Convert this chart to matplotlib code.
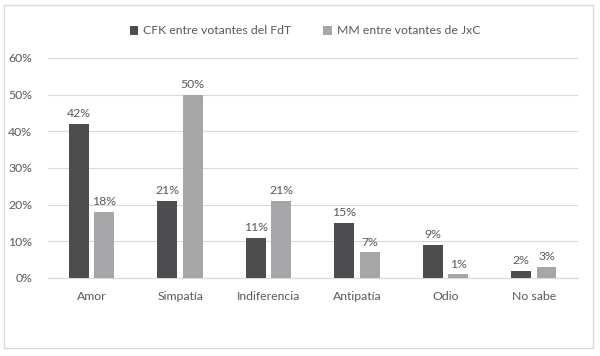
import matplotlib
matplotlib.use("Agg")
import matplotlib.pyplot as plt
import numpy as np
from matplotlib.patches import Rectangle

categories = ["Amor", "Simpatía", "Indiferencia", "Antipatía", "Odio", "No sabe"]
cfk = [42, 21, 11, 15, 9, 2]
mm = [18, 50, 21, 7, 1, 3]
series_names = ["CFK entre votantes del FdT", "MM entre votantes de JxC"]
yticks = [0, 10, 20, 30, 40, 50, 60]

plt.rcParams['font.family'] = ['Lato', 'DejaVu Sans']
text_color = "#595959"
dark = "#4d4d4f"
light = "#a6a6a8"

fig = plt.figure(figsize=(6, 3.56), dpi=100)
fig.patches.append(Rectangle((4/600, 1-348/356), 589/600, 343/356, transform=fig.transFigure,
                             fill=False, edgecolor="#d9d9d9", linewidth=1))
ax = fig.add_axes([47.5/600, 1-278/356, 530.5/600, 220/356])

x = np.arange(len(categories))
w = 0.225
off = 0.144
b1 = ax.bar(x - off, cfk, w, color=dark, label=series_names[0], zorder=3)
b2 = ax.bar(x + off, mm, w, color=light, label=series_names[1], zorder=3)
for bars, vals in ((b1, cfk), (b2, mm)):
    for r, v in zip(bars, vals):
        ax.text(r.get_x() + r.get_width()/2, v + 1.3, f"{v}%", ha="center", va="bottom",
                fontsize=8.8, color=text_color)

ax.set_xlim(-0.5, len(categories) - 0.5)
ax.set_ylim(0, 60)
ax.set_yticks(yticks)
ax.set_yticklabels([f"{t}%" for t in yticks])
ax.set_xticks(x)
ax.set_xticklabels(categories)
ax.tick_params(axis="both", length=0, labelsize=8.8, labelcolor=text_color)
ax.tick_params(axis="x", pad=9)
ax.tick_params(axis="y", pad=11)
ax.grid(axis="y", color="#d9d9d9", linewidth=0.8, zorder=0)
for s in ["top", "right", "left"]:
    ax.spines[s].set_visible(False)
ax.spines["bottom"].set_color("#d9d9d9")

fig.legend(loc="center", bbox_to_anchor=(305/600, 1-31/356), ncol=2, frameon=False,
           fontsize=8.8, labelcolor=text_color, handlelength=0.7, handleheight=0.7,
           handletextpad=0.4, columnspacing=2.6)

fig.savefig("out.png", dpi=100)
